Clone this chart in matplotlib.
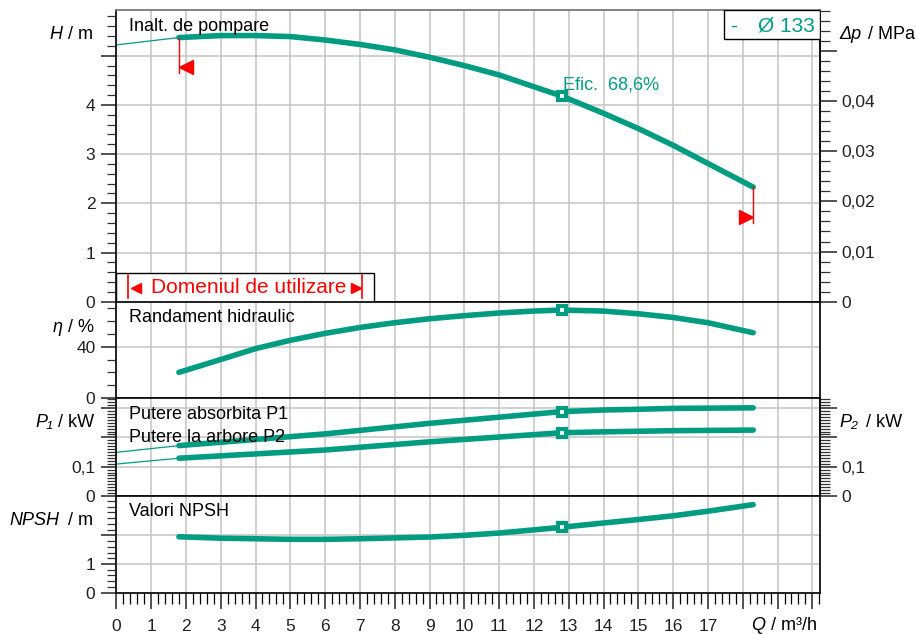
import matplotlib
matplotlib.use('Agg')
import matplotlib.pyplot as plt
from matplotlib.ticker import MultipleLocator, FixedLocator, FixedFormatter, FuncFormatter
from matplotlib.patches import Rectangle

plt.rcParams['font.family'] = ['Liberation Sans', 'DejaVu Sans']
plt.rcParams['font.size'] = 12.5

verde = '#009c82'
rosu = '#ff0000'
gri = '#c8c8c8'

# date (Q in m3/h)
q_opt = 12.8
q_h = [1.8, 3, 4, 5, 6, 7, 8, 9, 10, 11, 12, 12.8, 14, 15, 16, 17, 18.3]
h = [5.37, 5.41, 5.41, 5.39, 5.32, 5.23, 5.12, 4.97, 4.80, 4.61, 4.37, 4.18, 3.83, 3.52, 3.18, 2.81, 2.33]
q_h0 = [0, 1.8]
h0 = [5.22, 5.37]

q_eta = [1.8, 3, 4, 5, 6, 7, 8, 9, 10, 11, 12, 12.8, 14, 15, 16, 17, 18.3]
eta = [20.0, 30.0, 38.5, 45.0, 50.4, 55.0, 58.7, 61.8, 64.2, 66.3, 67.8, 68.6, 67.8, 65.7, 62.8, 58.7, 50.9]

q_p = [1.8, 6, 9, 12.8, 14, 15, 16, 18.3]
p1 = [0.172, 0.212, 0.248, 0.288, 0.2935, 0.296, 0.299, 0.301]
p2 = [0.129, 0.157, 0.185, 0.216, 0.219, 0.221, 0.223, 0.225]
q_p0 = [0, 1.8]
p1_0 = [0.149, 0.172]
p2_0 = [0.109, 0.129]

q_npsh = [1.8, 3, 4, 5, 6, 7, 8, 9, 10, 11, 12, 12.8, 14, 15, 16, 17, 18.3]
npsh = [1.95, 1.90, 1.88, 1.86, 1.86, 1.88, 1.91, 1.94, 2.00, 2.08, 2.19, 2.28, 2.43, 2.55, 2.68, 2.84, 3.07]

W, Hp = 916, 634
fig = plt.figure(figsize=(9.16, 6.34), dpi=100)


def pozitie(y0, y1):
    return [116.3 / W, 1 - y1 / Hp, (820 - 116.3) / W, (y1 - y0) / Hp]


def stil(ax, ylim, majore, etichete, minor):
    ax.set_xlim(0, 20.22)
    ax.set_ylim(*ylim)
    ax.xaxis.set_major_locator(MultipleLocator(1))
    ax.xaxis.set_minor_locator(MultipleLocator(0.2))
    ax.yaxis.set_major_locator(FixedLocator(majore))
    ax.yaxis.set_major_formatter(FixedFormatter(etichete))
    ax.yaxis.set_minor_locator(MultipleLocator(minor))
    ax.grid(True, which='major', color=gri, lw=1.2)
    ax.set_axisbelow(True)
    ax.tick_params(axis='y', which='major', direction='out', length=11, width=1.1, pad=4, colors='#222222')
    ax.tick_params(axis='y', which='minor', direction='out', length=6.5, width=0.9, colors='#333333')
    ax.tick_params(axis='x', which='both', bottom=False, labelbottom=False)
    for s in ax.spines.values():
        s.set_linewidth(1.3)
        s.set_color('#111111')


ax_h = fig.add_axes(pozitie(10, 301.7))
ax_e = fig.add_axes(pozitie(301.7, 398))
ax_p = fig.add_axes(pozitie(398, 496))
ax_n = fig.add_axes(pozitie(496, 592.7))

stil(ax_h, (0, 5.93), [0, 1, 2, 3, 4, 5], ['0', '1', '2', '3', '4', ''], 0.2)
stil(ax_e, (0, 75.1), [0, 40], ['0', '40'], 10)
stil(ax_p, (0, 0.3345), [0, 0.1, 0.2, 0.3], ['0', '0,1', '', ''], 0.01)
stil(ax_n, (0, 3.37), [0, 1, 2], ['0', '1', ''], 0.2)
ax_h.spines['top'].set_color('#777777')

# axa Q jos
ax_n.tick_params(axis='x', which='major', bottom=True, labelbottom=True, direction='out',
                 length=11.7, width=1.1, pad=7.5, colors='#222222')
ax_n.tick_params(axis='x', which='minor', bottom=True, direction='out', length=7.7, width=0.9)
ax_n.xaxis.set_major_formatter(FuncFormatter(lambda v, p: f'{int(round(v))}' if v < 17.5 else ''))

# axe din dreapta
ax_dp = ax_h.secondary_yaxis('right', functions=(lambda x: x * 0.00981, lambda x: x / 0.00981))
ax_dp.yaxis.set_major_locator(FixedLocator([0, 0.01, 0.02, 0.03, 0.04, 0.05]))
ax_dp.yaxis.set_major_formatter(FixedFormatter(['0', '0,01', '0,02', '0,03', '0,04', '']))
ax_dp.yaxis.set_minor_locator(MultipleLocator(0.002))
ax_p2 = ax_p.secondary_yaxis('right')
ax_p2.yaxis.set_major_locator(FixedLocator([0, 0.1, 0.2, 0.3]))
ax_p2.yaxis.set_major_formatter(FixedFormatter(['0', '0,1', '', '']))
ax_p2.yaxis.set_minor_locator(MultipleLocator(0.01))
for a in (ax_dp, ax_p2):
    a.tick_params(which='major', direction='out', length=12.5, width=1.1, pad=3, colors='#222222')
    a.tick_params(which='minor', direction='out', length=7, width=0.9, colors='#333333')
    a.spines['right'].set_linewidth(1.3)

# curbe
lw = 4
ax_h.plot(q_h0, h0, color=verde, lw=0.9)
ax_h.plot(q_h, h, color=verde, lw=lw, solid_capstyle='round', solid_joinstyle='round')
ax_e.plot(q_eta, eta, color=verde, lw=lw, solid_capstyle='round', solid_joinstyle='round')
ax_p.plot(q_p0, p1_0, color=verde, lw=0.9)
ax_p.plot(q_p0, p2_0, color=verde, lw=0.9)
ax_p.plot(q_p, p1, color=verde, lw=lw, solid_capstyle='round', solid_joinstyle='round')
ax_p.plot(q_p, p2, color=verde, lw=lw, solid_capstyle='round', solid_joinstyle='round')
ax_n.plot(q_npsh, npsh, color=verde, lw=lw, solid_capstyle='round', solid_joinstyle='round')

mk = dict(marker='s', ms=6.3, mew=3, mec=verde, mfc='white', ls='none', zorder=5)
ax_h.plot([q_opt], [h[q_h.index(q_opt)]], **mk)
ax_e.plot([q_opt], [eta[q_eta.index(q_opt)]], **mk)
ax_p.plot([q_opt], [p1[q_p.index(q_opt)]], **mk)
ax_p.plot([q_opt], [p2[q_p.index(q_opt)]], **mk)
ax_n.plot([q_opt], [npsh[q_npsh.index(q_opt)]], **mk)

ax_h.annotate('Efic.  68,6%', (q_opt, h[q_h.index(q_opt)]), xytext=(1, 8), textcoords='offset points',
              ha='left', va='center', color=verde, fontsize=13)

# limitele domeniului
ax_h.plot([q_h[0], q_h[0]], [h[0], h[0] - 0.73], color=rosu, lw=1)
ax_h.plot([q_h[0] + 0.2], [h[0] - 0.6], marker='<', ms=10, color=rosu, ls='none')
ax_h.plot([q_h[-1], q_h[-1]], [h[-1], h[-1] - 0.73], color=rosu, lw=1)
ax_h.plot([q_h[-1] - 0.2], [h[-1] - 0.6], marker='>', ms=10, color=rosu, ls='none')

# caseta "Domeniul de utilizare"
ax_h.add_patch(Rectangle((0, 0), 0.366, 0.098, transform=ax_h.transAxes, fc='white', ec='black', lw=1, zorder=3))
for xb in (0.017, 0.3496):
    ax_h.plot([xb, xb], [0.013, 0.092], transform=ax_h.transAxes, color=rosu, lw=1.2, zorder=4)
ax_h.plot([0.0273], [0.047], transform=ax_h.transAxes, marker='<', ms=7, color=rosu, zorder=4)
ax_h.plot([0.340], [0.047], transform=ax_h.transAxes, marker='>', ms=7, color=rosu, zorder=4)
ax_h.text(0.1875, 0.047, 'Domeniul de utilizare', transform=ax_h.transAxes, ha='center', va='center',
          color=rosu, fontsize=15, zorder=4)

# caseta diametru
ax_h.add_patch(Rectangle((0.864, 0.8996), 0.136, 0.1004, transform=ax_h.transAxes, fc='white', ec='black',
                         lw=1, zorder=3))
ax_h.text(0.877, 0.946, '-', transform=ax_h.transAxes, ha='center', va='center', color=verde, fontsize=15, zorder=4)
ax_h.text(0.993, 0.946, 'Ø 133', transform=ax_h.transAxes, ha='right', va='center', color=verde, fontsize=15,
          zorder=4)


def txt(x, y, s, **kw):
    fig.text(x / W, 1 - y / Hp, s, va='baseline', fontsize=13, **kw)


# titluri panouri
txt(129, 31, 'Inalt. de pompare')
txt(129.3, 321.7, 'Randament hidraulic')
txt(129, 419, 'Putere absorbita P1')
txt(129, 442.3, 'Putere la arbore P2')
txt(129, 515.7, 'Valori NPSH')

# etichete axe
txt(49.5, 39.3, 'H', style='italic')
txt(68.5, 39.3, '/ m')
txt(52.5, 331.7, 'η', style='italic')
txt(68.5, 331.7, '/ %')
txt(35.5, 426.7, 'P₁', style='italic')
txt(58.5, 426.7, '/ kW')
txt(9.5, 525.3, 'NPSH', style='italic')
txt(68.5, 525.3, '/ m')
txt(839.5, 39.3, 'Δp', style='italic')
txt(867.5, 39.3, '/ MPa')
txt(839.5, 427.3, 'P₂', style='italic')
txt(866, 427.3, '/ kW')
txt(751.5, 630.5, 'Q', style='italic')
txt(771, 630.5, '/ m³/h')

fig.savefig('out.png', dpi=100)
